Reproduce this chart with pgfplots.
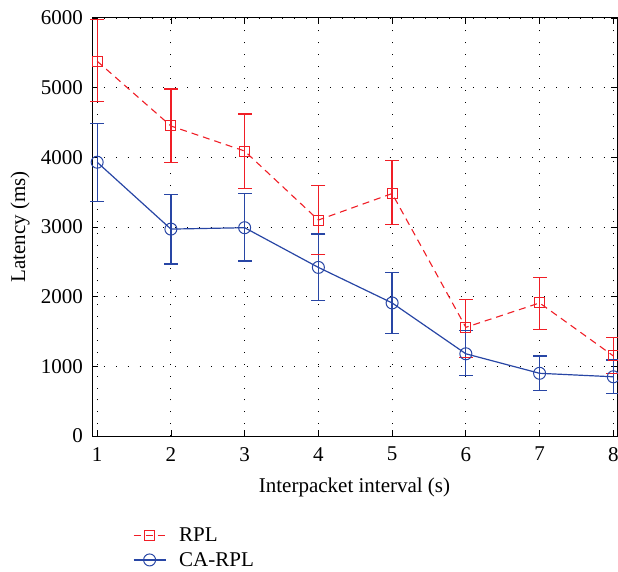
\documentclass[border=0pt]{standalone}
\usepackage{pgfplots}
\pgfplotsset{compat=1.18}
\usepackage{fontspec}
\setmainfont{Liberation Serif}
\definecolor{rplred}{RGB}{240,30,38}
\definecolor{cablue}{RGB}{40,70,165}
\newcommand\ebar[4]{\addplot[color=#1, solid, line width=1.3pt, mark=-, mark size=7pt, mark options={solid, line width=1.3pt}, forget plot] coordinates {(#2,#3) (#2,#4)};}
\begin{document}
\begin{tikzpicture}[font=\fontsize{21}{25}\selectfont]
\begin{axis}[name=ax, scale only axis, width=525pt, height=418pt,
  xmin=0.93, xmax=8.05, ymin=0, ymax=6000,
  xtick={1,...,8}, ytick={0,1000,...,6000},
  tick align=inside, major tick length=6pt,
  tick style={black, line width=0.8pt},
  axis line style={black, line width=1pt},
  grid=major, major grid style={black, line width=0.9pt, dash pattern=on 0.9pt off 11pt},
  /pgf/number format/assume math mode=true,
  scaled y ticks=false,
  y tick label style={/pgf/number format/1000 sep={}, anchor=east, inner sep=0pt, xshift=-9pt},
  x tick label style={anchor=north, inner sep=0pt, yshift=-11pt},
  xlabel={Interpacket interval (s)}, ylabel={Latency (ms)},
  every axis x label/.style={at={(axis description cs:0.5,-0.124)}, anchor=center},
  every axis y label/.style={at={(axis description cs:-0.137,0.5)}, rotate=90, anchor=center},
  legend style={at={(axis description cs:0.072,-0.21)}, anchor=north west, draw=none, fill=none,
    row sep=5pt, nodes={inner sep=2pt}, /tikz/every odd column/.append style={column sep=11pt}},
  legend cell align=left,
  legend image code/.code={\draw[mark repeat=2,mark phase=2,#1] plot coordinates {(0pt,0pt) (16pt,0pt) (32pt,0pt)};},
]
% RPL error bars (x, low, high)
\ebar{rplred}{1}{4800}{5980}
\ebar{rplred}{2}{3930}{4980}
\ebar{rplred}{3}{3550}{4620}
\ebar{rplred}{4}{2610}{3600}
\ebar{rplred}{5}{3040}{3950}
\ebar{rplred}{6}{1130}{1960}
\ebar{rplred}{7}{1530}{2280}
\ebar{rplred}{8}{900}{1410}
% CA-RPL error bars
\ebar{cablue}{1}{3370}{4490}
\ebar{cablue}{2}{2470}{3470}
\ebar{cablue}{3}{2510}{3480}
\ebar{cablue}{4}{1940}{2900}
\ebar{cablue}{5}{1470}{2350}
\ebar{cablue}{6}{870}{1510}
\ebar{cablue}{7}{650}{1150}
\ebar{cablue}{8}{610}{1090}
\addplot[color=rplred, line width=1.1pt, dash pattern=on 7pt off 5pt, mark=square, mark size=5pt,
  mark options={solid, line width=1pt}]
  coordinates {(1,5380) (2,4450) (3,4090) (4,3100) (5,3480) (6,1560) (7,1910) (8,1150)};
\addlegendentry{RPL}
\addplot[color=cablue, line width=1.2pt, mark=o, mark size=6pt,
  mark options={solid, line width=1pt}]
  coordinates {(1,3930) (2,2970) (3,2990) (4,2420) (5,1910) (6,1180) (7,900) (8,850)};
\addlegendentry{CA-RPL}
\end{axis}
\pgfresetboundingbox
\path ([xshift=-92pt, yshift=18pt]ax.north west) rectangle ([xshift=1pt, yshift=-135pt]ax.south east);
\end{tikzpicture}
\end{document}
